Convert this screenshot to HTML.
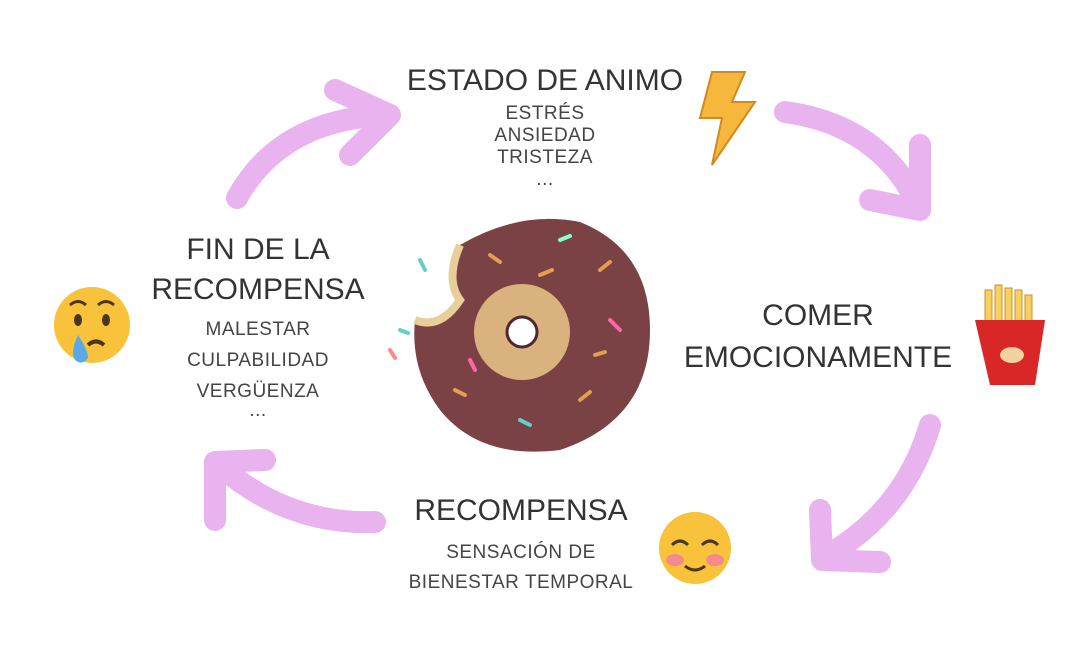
<!DOCTYPE html>
<html><head><meta charset="utf-8"><style>
html,body{margin:0;padding:0;background:#fff;}
body{width:1065px;height:651px;overflow:hidden;position:relative;font-family:"Liberation Sans",sans-serif;color:#333;}
.t{position:absolute;text-align:center;white-space:nowrap;transform:translateX(-50%);}
.h{font-size:30px;}
.s{font-size:19px;letter-spacing:0.5px;color:#444;}
</style></head><body>
<svg width="1065" height="651" style="position:absolute;left:0;top:0">
<g fill="none" stroke="#e9b3f0" stroke-width="22" stroke-linecap="round" stroke-linejoin="round">
<path d="M237 198 Q280 120 385 115"/>
<path d="M335 90 L390 115 L350 155"/>
<path d="M785 112 Q880 125 918 205"/>
<path d="M920 145 L920 210 L870 200"/>
<path d="M930 425 Q905 510 828 555"/>
<path d="M820 510 L822 560 L880 562"/>
<path d="M375 522 Q290 525 222 468"/>
<path d="M215 520 L215 462 L265 460"/>
</g>
<!-- donut -->
<path d="M460 245 Q520 210 580 222 Q650 250 650 330 Q650 420 560 450 Q480 460 440 410 Q410 370 415 320 Q440 330 460 300 Q445 280 460 245 Z" fill="#7a4244"/>
<circle cx="522" cy="332" r="48" fill="#d9b27e"/>
<circle cx="522" cy="332" r="15" fill="#fff" stroke="#4a2a2a" stroke-width="3"/>
<path d="M460 245 Q445 280 460 300 Q440 330 415 320" fill="none" stroke="#e8cf9a" stroke-width="8"/>
<g stroke-width="4" stroke-linecap="round">
<line x1="490" y1="255" x2="500" y2="262" stroke="#e0a050"/><line x1="560" y1="240" x2="570" y2="236" stroke="#8fc"/>
<line x1="600" y1="270" x2="610" y2="262" stroke="#e0a050"/><line x1="580" y1="400" x2="590" y2="392" stroke="#e0a050"/>
<line x1="470" y1="360" x2="475" y2="370" stroke="#f6a"/><line x1="520" y1="420" x2="530" y2="425" stroke="#6cc"/>
<line x1="610" y1="320" x2="620" y2="330" stroke="#f6a"/><line x1="455" y1="390" x2="465" y2="395" stroke="#e0a050"/>
<line x1="540" y1="275" x2="552" y2="270" stroke="#e0a050"/><line x1="595" y1="355" x2="605" y2="352" stroke="#e0a050"/>
<line x1="400" y1="330" x2="408" y2="333" stroke="#6cc"/><line x1="390" y1="350" x2="395" y2="358" stroke="#f88"/>
<line x1="420" y1="260" x2="425" y2="270" stroke="#6cc"/>
</g>
<!-- lightning -->
<path d="M712 72 L745 72 L732 102 L755 102 L712 165 L722 118 L700 118 Z" fill="#f6b73c" stroke="#d08a20" stroke-width="2"/>
<!-- sad face -->
<circle cx="92" cy="325" r="38" fill="#f8c23a"/>
<ellipse cx="78" cy="320" rx="4" ry="6" fill="#4a3520"/><ellipse cx="106" cy="320" rx="4" ry="6" fill="#4a3520"/>
<path d="M70 305 Q78 298 86 305 M98 305 Q106 298 114 305" stroke="#4a3520" stroke-width="3" fill="none"/>
<path d="M88 345 Q96 338 104 345" stroke="#4a3520" stroke-width="4" fill="none"/>
<path d="M78 335 Q70 352 75 360 Q82 366 88 358 Q88 350 78 335Z" fill="#5aa8e8"/>
<!-- fries -->
<g stroke="#c89030" stroke-width="1"><rect x="985" y="290" width="7" height="40" fill="#f7d060"/><rect x="995" y="285" width="7" height="45" fill="#f7d060"/><rect x="1005" y="288" width="7" height="42" fill="#f7d060"/><rect x="1015" y="290" width="7" height="40" fill="#f7d060"/><rect x="1025" y="295" width="7" height="35" fill="#f7d060"/></g>
<path d="M975 320 L1045 320 L1035 385 L990 385 Z" fill="#d92626"/>
<ellipse cx="1012" cy="355" rx="12" ry="8" fill="#f3d2a0"/>
<!-- smile -->
<circle cx="695" cy="548" r="36" fill="#f8c23a"/>
<ellipse cx="675" cy="560" rx="9" ry="6" fill="#f48a8a"/><ellipse cx="715" cy="560" rx="9" ry="6" fill="#f48a8a"/>
<path d="M672 545 Q680 537 688 545 M702 545 Q710 537 718 545" stroke="#4a3520" stroke-width="3" fill="none"/>
<path d="M685 566 Q695 574 705 566" stroke="#4a3520" stroke-width="3" fill="none"/>
</svg>
<div class="t h" style="left:545px;top:64px">ESTADO DE ANIMO</div>
<div class="t s" style="left:545px;top:103px;line-height:22px">ESTRÉS<br>ANSIEDAD<br>TRISTEZA<br>...</div>
<div class="t h" style="left:258px;top:230px;line-height:40px">FIN DE LA<br>RECOMPENSA</div>
<div class="t s" style="left:258px;top:314px;line-height:31px">MALESTAR<br>CULPABILIDAD<br>VERGÜENZA</div>
<div class="t s" style="left:258px;top:400px">...</div>
<div class="t h" style="left:818px;top:295px;line-height:42px">COMER<br>EMOCIONAMENTE</div>
<div class="t h" style="left:521px;top:494px">RECOMPENSA</div>
<div class="t s" style="left:521px;top:538px;line-height:30px">SENSACIÓN DE<br>BIENESTAR TEMPORAL</div>
</body></html>
